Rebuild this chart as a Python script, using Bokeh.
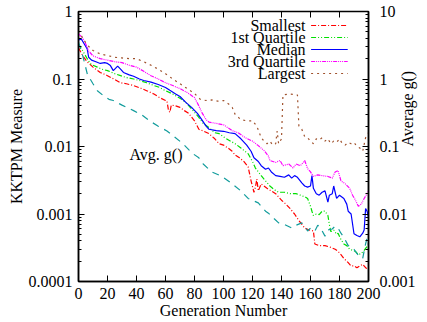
from math import pi
from bokeh.plotting import figure
from bokeh.models import Range1d, LogScale, LogAxis, FixedTicker, CustomJSTickFormatter, Label
from bokeh.embed import file_html
from bokeh.resources import INLINE

# ---------------- data ----------------
gen_smallest = [0, 3, 6, 10, 15, 20, 25, 29, 33, 38, 43, 47, 52, 56, 60, 61, 62, 63, 64, 67, 70, 73, 76, 80, 83, 86,
                90, 94, 97, 100, 104, 106, 108, 111, 114, 117, 119, 121, 122, 123, 124, 126, 130, 133, 136, 140,
                143, 146, 149, 152, 156, 159, 162, 163, 166, 170, 174, 177, 179, 181, 183, 186, 188, 190, 192,
                194, 196, 198, 200]
smallest = [0.29, 0.22, 0.18, 0.15, 0.125, 0.112, 0.098, 0.088, 0.085, 0.08, 0.073, 0.067, 0.06, 0.053, 0.048,
            0.047, 0.035, 0.032, 0.041, 0.04, 0.038, 0.034, 0.031, 0.024, 0.018, 0.017, 0.0155, 0.013, 0.011,
            0.0105, 0.0092, 0.0085, 0.0075, 0.0068, 0.006, 0.005, 0.0031, 0.0021, 0.0025, 0.0033, 0.0022, 0.0028,
            0.0024, 0.0022, 0.002, 0.0016, 0.0014, 0.0012, 0.001, 0.0008, 0.00062, 0.00058, 0.00056, 0.00036,
            0.00034, 0.00034, 0.00032, 0.0003, 0.00028, 0.00025, 0.00022, 0.00019, 0.00017, 0.00017, 0.00016,
            0.00017, 0.00018, 0.00016, 0.00015]

gen_q1 = [0, 3, 6, 8, 10, 13, 16, 20, 25, 29, 33, 38, 42, 47, 52, 56, 60, 65, 70, 74, 78, 83, 86, 90, 94, 97, 102,
          108, 112, 117, 120, 122, 126, 129, 132, 135, 138, 142, 146, 150, 153, 156, 158, 160, 161, 162, 164, 166,
          168, 170, 172, 173, 174, 176, 178, 179, 181, 183, 185, 187, 189, 191, 193, 195, 197, 199, 200]
q1 = [0.33, 0.26, 0.2, 0.17, 0.16, 0.15, 0.14, 0.133, 0.12, 0.112, 0.105, 0.1, 0.095, 0.088, 0.08, 0.075, 0.067,
      0.06, 0.052, 0.045, 0.036, 0.027, 0.022, 0.019, 0.016, 0.0155, 0.013, 0.011, 0.0095, 0.0078, 0.006, 0.0048,
      0.0037, 0.0031, 0.0026, 0.0023, 0.0021, 0.0021, 0.002, 0.002, 0.0019, 0.0018, 0.0017, 0.0013, 0.0011,
      0.00095, 0.001, 0.00098, 0.0011, 0.0011, 0.00095, 0.0007, 0.00055, 0.00058, 0.0005, 0.00052, 0.00042,
      0.00036, 0.00034, 0.0003, 0.00029, 0.00028, 0.00025, 0.00026, 0.00029, 0.00033, 0.00035]

gen_median = [0, 2, 4, 6, 7, 9, 12, 15, 18, 20, 22, 24, 27, 29, 31, 35, 38, 42, 45, 50, 55, 60, 63, 67, 70, 74, 78,
              82, 85, 88, 90, 95, 100, 104, 108, 112, 116, 119, 121, 124, 126, 129, 131, 133, 136, 139, 142, 145,
              147, 149, 151, 154, 156, 158, 160, 161, 162, 164, 166, 168, 170, 172, 173, 175, 176, 178, 180, 183,
              185, 186, 188, 190, 192, 194, 196, 197, 198, 199, 200]
median = [0.38, 0.39, 0.33, 0.28, 0.21, 0.19, 0.18, 0.17, 0.175, 0.17, 0.158, 0.133, 0.155, 0.14, 0.125, 0.115,
          0.11, 0.1, 0.095, 0.09, 0.083, 0.075, 0.068, 0.06, 0.055, 0.045, 0.038, 0.031, 0.025, 0.02, 0.018, 0.0172,
          0.0168, 0.016, 0.0155, 0.013, 0.0105, 0.0085, 0.0068, 0.006, 0.0052, 0.0046, 0.0048, 0.0042, 0.0037,
          0.0036, 0.0035, 0.0038, 0.0034, 0.0037, 0.0035, 0.0029, 0.0026, 0.0025, 0.0026, 0.0037, 0.0024, 0.002,
          0.0019, 0.0021, 0.0022, 0.0015, 0.0019, 0.002, 0.0026, 0.0017, 0.0019, 0.0017, 0.0014, 0.0011, 0.001,
          0.00051, 0.00048, 0.00046, 0.00052, 0.00058, 0.0012, 0.0011, 0.0009]

gen_q3 = [0, 3, 5, 7, 10, 15, 20, 25, 30, 35, 40, 45, 50, 55, 60, 65, 70, 75, 80, 83, 85, 88, 90, 95, 100, 106, 110,
          115, 120, 124, 128, 131, 132, 136, 139, 141, 145, 148, 150, 153, 155, 156, 158, 160, 162, 165, 168, 172,
          175, 177, 179, 181, 184, 187, 189, 191, 193, 195, 197, 199, 200]
q3 = [0.47, 0.4, 0.33, 0.26, 0.22, 0.2, 0.19, 0.18, 0.175, 0.16, 0.15, 0.13, 0.112, 0.1, 0.088, 0.08, 0.072, 0.063,
      0.053, 0.04, 0.032, 0.025, 0.023, 0.022, 0.021, 0.0172, 0.016, 0.0135, 0.012, 0.0103, 0.0087, 0.0072, 0.0062,
      0.0058, 0.0062, 0.0052, 0.0055, 0.0048, 0.0055, 0.0052, 0.0058, 0.0062, 0.0047, 0.0042, 0.0036, 0.0038,
      0.0037, 0.0036, 0.0034, 0.0042, 0.0044, 0.0031, 0.0028, 0.0024, 0.0019, 0.0016, 0.0013, 0.0014, 0.0017,
      0.002, 0.0022]

gen_largest = [0, 3, 6, 10, 15, 20, 25, 30, 35, 40, 45, 50, 55, 60, 65, 70, 75, 80, 84, 88, 92, 96, 100, 104, 106,
               108, 112, 116, 120, 123, 126, 128, 130, 132, 134, 136, 137, 138, 140, 141, 145, 149, 151, 152, 154,
               156, 158, 160, 162, 164, 166, 168, 170, 172, 174, 176, 178, 180, 182, 184, 186, 188, 190, 192, 194,
               196, 198, 200]
largest = [0.52, 0.4, 0.32, 0.264, 0.235, 0.222, 0.21, 0.205, 0.2, 0.2, 0.18, 0.16, 0.14, 0.12, 0.1, 0.085, 0.072,
           0.061, 0.05, 0.048, 0.049, 0.047, 0.048, 0.042, 0.038, 0.03, 0.025, 0.024, 0.024, 0.02, 0.0135, 0.012,
           0.011, 0.012, 0.0105, 0.011, 0.017, 0.011, 0.013, 0.058, 0.06, 0.059, 0.058, 0.02, 0.018, 0.014, 0.0135,
           0.012, 0.011, 0.013, 0.0125, 0.0135, 0.012, 0.013, 0.011, 0.012, 0.0115, 0.013, 0.011, 0.0105, 0.0115,
           0.011, 0.0115, 0.01, 0.0095, 0.0085, 0.0135, 0.016]

gen_avg_g = [0, 2, 4, 6, 8, 10, 13, 17, 21, 24, 30, 38, 44, 49, 55, 61, 66, 72, 76, 79, 83, 86, 92, 99, 106, 112,
             117, 124, 129, 131, 135, 138, 142, 147, 150, 154, 156, 158, 160, 163, 165, 167, 170, 172, 175, 177, 179,
             181, 183, 186, 188, 190, 192, 194, 196, 198, 199, 200]
avg_g = [3.5, 2.6, 1.8, 1.2, 1.0, 0.85, 0.67, 0.57, 0.5, 0.48, 0.41, 0.34, 0.29, 0.24, 0.2, 0.17, 0.14, 0.11, 0.09,
         0.078, 0.068, 0.055, 0.042, 0.036, 0.028, 0.022, 0.017, 0.0146, 0.011, 0.0103, 0.0085, 0.0074, 0.007,
         0.0062, 0.0068, 0.0074, 0.0066, 0.0056, 0.0062, 0.0056, 0.0068, 0.0062, 0.0047, 0.0058, 0.006, 0.0066,
         0.0062, 0.0052, 0.0045, 0.0034, 0.0033, 0.003, 0.0026, 0.0023, 0.0022, 0.0036, 0.0044, 0.0035]

legend_names = ["Smallest", "1st Quartile", "Median", "3rd Quartile", "Largest"]
x_ticks = list(range(0, 201, 20))
y_major = [1e-4, 1e-3, 1e-2, 1e-1, 1.0]
y2_major = [1e-3, 1e-2, 1e-1, 1.0, 10.0]

# ---------------- styling ----------------
FONT = "Liberation Serif"
FS = "16px"
colors = ["#ff0000", "#00e000", "#0000ff", "#ff00ff", "#a0522d"]
dashes = ["5 2 1 2", "5 2 1 2 1 2", "solid", "4 1 1 1 1 1 1 1", "2 4"]
teal = "#129c9c"

FL, FR, FT, FB = 78, 371, 11, 281  # frame edges in canvas px

p = figure(width=427, height=322, x_range=Range1d(0, 200), y_range=Range1d(1e-4, 1),
           y_axis_type="log", output_backend="svg", toolbar_location=None,
           min_border_left=FL, min_border_right=427 - FR, min_border_top=FT, min_border_bottom=322 - FB)
p.extra_y_ranges = {"g": Range1d(1e-3, 10)}
p.extra_y_scales = {"g": LogScale()}
p.xgrid.visible = False
p.ygrid.visible = False
p.outline_line_color = "black"
p.outline_line_width = 1.5
p.background_fill_color = "white"
p.border_fill_color = "white"


def minors(lo, hi):
    return [m * 10.0 ** k for k in range(lo, hi) for m in range(2, 10)]


fmt = CustomJSTickFormatter(code="return String(Number(tick.toPrecision(6)));")


def style(ax):
    ax.axis_line_color = "black"
    ax.axis_line_width = 1.5
    ax.major_tick_in = 6
    ax.major_tick_out = 0
    ax.minor_tick_in = 3
    ax.minor_tick_out = 0
    ax.major_tick_line_color = "black"
    ax.minor_tick_line_color = "black"
    ax.major_label_text_font = FONT
    ax.major_label_text_font_size = FS
    ax.major_label_text_color = "black"
    ax.axis_label_text_font = FONT
    ax.axis_label_text_font_size = FS
    ax.axis_label_text_font_style = "normal"
    ax.axis_label_text_color = "black"


xa = p.xaxis[0]
xa.ticker = FixedTicker(ticks=x_ticks)
style(xa)
xa.major_label_standoff = 6
xa.axis_label = "Generation Number"
xa.axis_label_standoff = 0

ya = p.yaxis[0]
ya.ticker = FixedTicker(ticks=y_major, minor_ticks=minors(-4, 0))
ya.formatter = fmt
style(ya)
ya.major_label_standoff = 6
ya.axis_label = "KKTPM Measure"
ya.axis_label_standoff = 1

ra = LogAxis(y_range_name="g", ticker=FixedTicker(ticks=y2_major, minor_ticks=minors(-3, 1)), formatter=fmt)
style(ra)
ra.major_label_standoff = 11
ra.axis_label = "Average g()"
ra.axis_label_standoff = -11
try:
    ra.axis_label_orientation = pi / 2
except Exception:
    pass
p.add_layout(ra, "right")

# mirrored tick marks on the top border (gnuplot style)
tick_len_top = 10 ** (-(6.0) * 4.0 / (FB - FT))
p.segment(x0=x_ticks, y0=[p.y_range.end] * len(x_ticks), x1=x_ticks,
          y1=[p.y_range.end * tick_len_top] * len(x_ticks), line_color="black", line_width=1)

# ---------------- data lines ----------------
series = [(gen_smallest, smallest), (gen_q1, q1), (gen_median, median), (gen_q3, q3), (gen_largest, largest)]
for (gx, gy), c, d in zip(series, colors, dashes):
    p.line(gx, gy, line_color=c, line_dash=d, line_width=1.2)
p.line(gen_avg_g, avg_g, line_color=teal, line_dash="7 6", line_width=1.2, y_range_name="g")

# ---------------- legend (gnuplot style: text left, sample right) ----------------
xscale = 200.0 / (FR - FL)


def px_x(px):
    return (px - FL) * xscale


def px_y(py):
    return 10 ** (-(py - FT) * 4.0 / (FB - FT))


rows = [25, 37, 49, 61, 73]
for name, c, d, ry in zip(legend_names, colors, dashes, rows):
    p.add_layout(Label(x=305 - FL, y=FB - ry, x_units="screen", y_units="screen", text=name,
                       text_align="right", text_baseline="middle", text_font=FONT,
                       text_font_size=FS, text_color="black"))
    p.line([px_x(313), px_x(350)], [px_y(ry), px_y(ry)], line_color=c, line_dash=d, line_width=1.2)

p.add_layout(Label(x=129 - FL, y=FB - 154, x_units="screen", y_units="screen", text="Avg. g()",
                   text_align="left", text_baseline="middle", text_font=FONT, text_font_size=FS,
                   text_color="black"))

open("out.html", "w").write(file_html(p, INLINE))
